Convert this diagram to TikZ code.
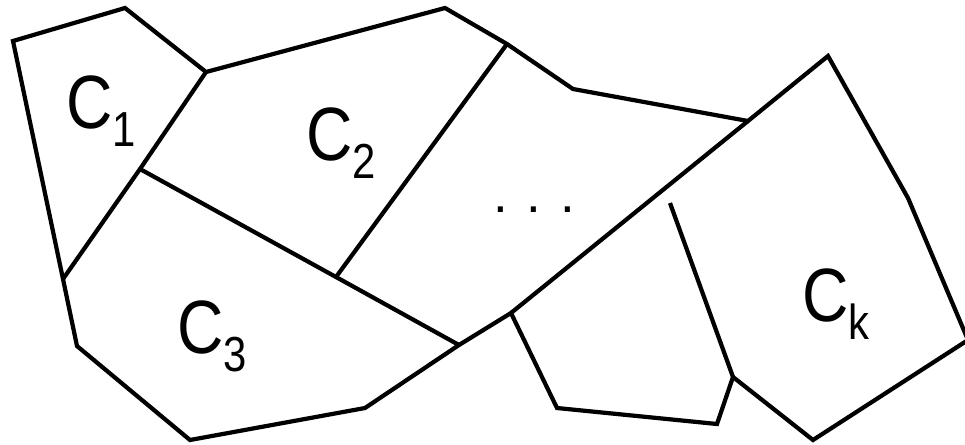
\documentclass[tikz,border=0pt]{standalone}
\usepackage{fontspec}
\setmainfont{Liberation Sans}
\newfontfamily\cellfont[FakeStretch=0.85]{Liberation Sans}
\usetikzlibrary{positioning}

\newcommand{\cellname}[1]{C\raisebox{-0.36cm}{\fontsize{28}{28}\selectfont #1}}

\begin{document}
\begin{tikzpicture}[x=0.02cm, y=-0.02cm,
  edge/.style={line width=2.4pt, line join=miter},
  lbl/.style={font=\cellfont\fontsize{43}{43}\selectfont, inner sep=0pt, anchor=base west}
]
  \useasboundingbox (0,0) rectangle (965,444);

  % outer corners
  \coordinate (a) at (13,41);
  \coordinate (b) at (125,8);
  \coordinate (c) at (206,72);
  \coordinate (d) at (445,8);
  \coordinate (e) at (507,44);
  \coordinate (f) at (573,89);
  \coordinate (g) at (748,121);
  \coordinate (h) at (828,56);
  \coordinate (i) at (908,198);
  \coordinate (j) at (968,340);
  \coordinate (k) at (813,440);
  \coordinate (l) at (733,377);
  \coordinate (m) at (717,424);
  \coordinate (n) at (557,408);
  \coordinate (o) at (511,313);
  \coordinate (p) at (459,345);
  \coordinate (q) at (365,408);
  \coordinate (r) at (190,440);
  \coordinate (s) at (77,346);
  \coordinate (t) at (63,279);
  % inner junctions
  \coordinate (u) at (670,203);
  \coordinate (v) at (140,169);
  \coordinate (w) at (336,277);

  \draw[edge] (a) -- (b) -- (c) -- (d) -- (e) -- (f) -- (g) -- (h) -- (i) -- (j)
    -- (k) -- (l) -- (m) -- (n) -- (o) -- (p) -- (q) -- (r) -- (s) -- (t) -- cycle;
  \draw[edge] (g) -- (o);
  \draw[edge] (l) -- (u);
  \draw[edge] (c) -- (v) -- (t);
  \draw[edge] (v) -- (w) -- (p);
  \draw[edge] (e) -- (w);

  \node[lbl] (c1) at (66,128) {\cellname{1}};
  \node[lbl] (c2) at (306,160) {\cellname{2}};
  \node[lbl] (c3) at (177,353) {\cellname{3}};
  \node[lbl] (ck) at (802,321) {\cellname{k}};
  \node[font=\fontsize{30}{30}\selectfont, inner sep=0pt] (dots) at (534,210) {.\hspace{0.38cm}.\hspace{0.38cm}.};
\end{tikzpicture}
\end{document}
